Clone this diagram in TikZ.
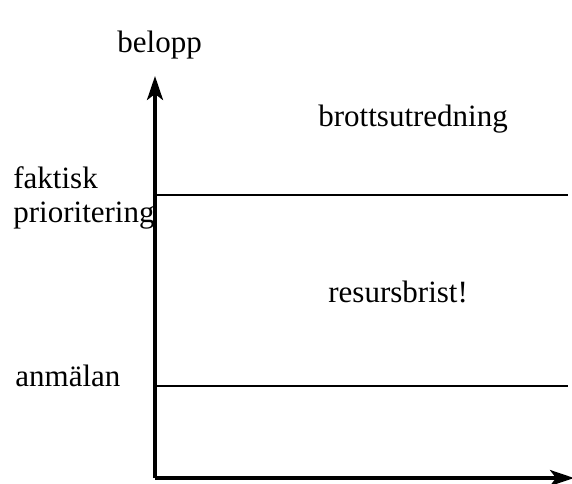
\documentclass[tikz,border=0pt]{standalone}
\usepackage{fontspec}
\setmainfont{Liberation Serif}
\usetikzlibrary{arrows.meta}
\begin{document}
\begin{tikzpicture}[x=0.5pt,y=-0.5pt,
  lbl/.style={inner sep=0pt,anchor=base west,font=\fontsize{15.5pt}{17.5pt}\selectfont},
  axis/.style={line width=1.7pt,-{Stealth[length=12pt,width=8pt,inset=3pt]}},
  level/.style={line width=0.7pt}]
\useasboundingbox (0,0) rectangle (572,483);
\coordinate (o) at (155,478);
\coordinate (ytop) at (155,76);
\coordinate (xend) at (574,478);
\draw[axis] (o) -- (ytop);
\draw[axis] (o) -- (xend);
\coordinate (f1) at (157,195);
\coordinate (f2) at (568,195);
\coordinate (a1) at (157,386);
\coordinate (a2) at (568,386);
\draw[level] (f1) -- (f2);
\draw[level] (a1) -- (a2);
\node[lbl] (belopp) at (117,52) {belopp};
\node[lbl] (brott) at (318,126) {brottsutredning};
\node[lbl] (faktisk) at (13,188) {faktisk};
\node[lbl] (prio) at (13,222) {prioritering};
\node[lbl] (resurs) at (328,302) {resursbrist!};
\node[lbl] (anm) at (15,386) {anmälan};
\end{tikzpicture}
\end{document}
